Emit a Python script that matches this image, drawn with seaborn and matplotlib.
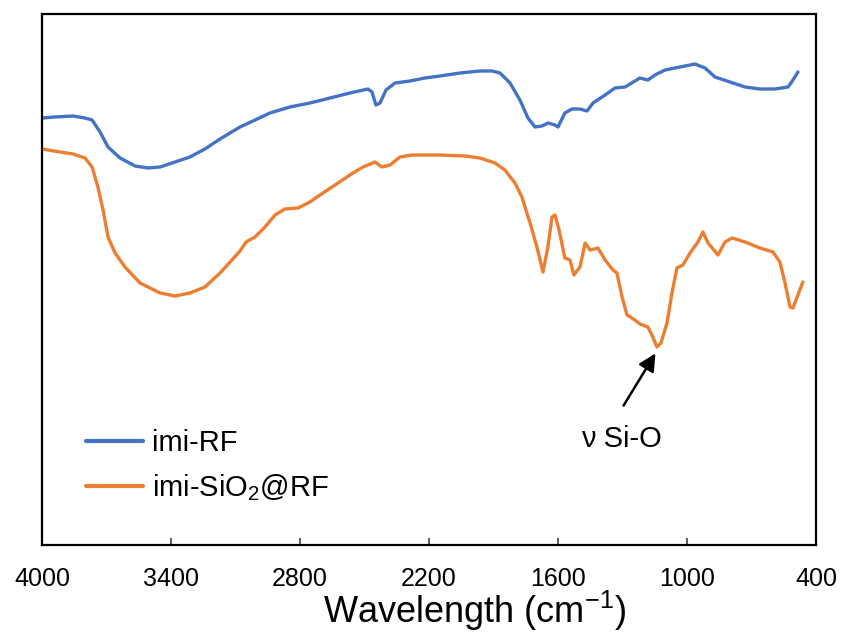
import numpy as np
import pandas as pd
import matplotlib
matplotlib.use("Agg")
import matplotlib.pyplot as plt
import seaborn as sns

# ---- data (y in arbitrary transmittance units) ----
wn_rf = [4000, 3940, 3856, 3800, 3767, 3730, 3693, 3637, 3567, 3507, 3451, 3381,
         3312, 3242, 3172, 3079, 3009, 2940, 2847, 2754, 2660, 2568, 2484, 2465,
         2447, 2428, 2400, 2358, 2288, 2219, 2149, 2056, 1963, 1907, 1870, 1823,
         1777, 1740, 1707, 1674, 1647, 1614, 1600, 1568, 1535, 1498, 1465, 1437,
         1381, 1335, 1288, 1219, 1182, 1149, 1102, 1033, 963, 916, 870, 800, 730,
         661, 591, 530, 507, 484]
t_rf = [427, 428, 429, 427, 425, 413, 398, 387, 379, 377, 378, 383,
        388, 396, 406, 418, 425, 432, 438, 442, 447, 452, 456, 453,
        440, 442, 455, 462, 464, 467, 469, 472, 474, 474, 472, 462,
        445, 427, 418, 419, 422, 420, 418, 432, 436, 436, 434, 442,
        450, 457, 458, 467, 465, 470, 475, 478, 481, 477, 468, 463, 458,
        456, 456, 458, 465, 473]

wn_si = [4000, 3916, 3856, 3800, 3767, 3740, 3716, 3693, 3660, 3614, 3544, 3451,
         3381, 3312, 3242, 3172, 3079, 3051, 3009, 2963, 2916, 2870, 2809, 2754,
         2707, 2637, 2568, 2507, 2451, 2419, 2381, 2335, 2279, 2149, 2033, 1963,
         1893, 1847, 1800, 1768, 1730, 1698, 1670, 1647, 1628, 1614, 1595, 1568,
         1544, 1526, 1498, 1474, 1451, 1414, 1381, 1344, 1326, 1302, 1279, 1242,
         1219, 1182, 1163, 1140, 1121, 1093, 1070, 1047, 1019, 986, 949, 926, 902,
         856, 823, 791, 730, 661, 600, 568, 544, 521, 507, 488, 461]
t_si = [396, 393, 391, 387, 378, 358, 335, 308, 292, 278, 262, 252,
        249, 252, 258, 272, 294, 303, 308, 318, 330, 336, 337, 343,
        350, 360, 370, 378, 383, 378, 380, 388, 390, 390, 389, 387,
        382, 375, 362, 348, 322, 298, 273, 298, 328, 330, 315, 287,
        285, 270, 278, 302, 295, 297, 285, 275, 272, 248, 230, 225,
        221, 218, 210, 198, 202, 222, 252, 277, 280, 292, 303, 313, 302,
        290, 303, 307, 303, 297, 293, 283, 262, 238, 237, 248, 263]

labels = ["imi-RF", "imi-SiO$_2$@RF"]
colors = ["#4472C4", "#ED7D31"]
xticks = [4000, 3400, 2800, 2200, 1600, 1000, 400]

df = pd.concat([
    pd.DataFrame({"wn": wn_rf, "T": t_rf, "sample": labels[0]}),
    pd.DataFrame({"wn": wn_si, "T": t_si, "sample": labels[1]}),
])

sns.set_theme(style="white")
plt.rcParams["font.family"] = ["Liberation Sans", "DejaVu Sans"]
plt.rcParams["mathtext.fontset"] = "custom"
plt.rcParams["mathtext.rm"] = "Liberation Sans"
plt.rcParams["mathtext.it"] = "Liberation Sans:italic"
plt.rcParams["mathtext.default"] = "regular"
plt.rcParams["text.color"] = "black"
plt.rcParams["axes.labelcolor"] = "black"
plt.rcParams["xtick.color"] = "black"

fig = plt.figure(figsize=(8.41, 6.37), dpi=100)
ax = fig.add_axes([42 / 841, 1 - 545 / 637, (816 - 42) / 841, (545 - 14) / 637])

sns.lineplot(data=df, x="wn", y="T", hue="sample", palette=colors,
             hue_order=labels, estimator=None, sort=False, lw=2.4, ax=ax)

ax.set_xlim(4000, 400)
ax.set_ylim(0, 531)
ax.set_xticks(xticks)
ax.set_xticklabels([str(t) for t in xticks])
ax.set_yticks([])
ax.set_ylabel("")
ax.tick_params(axis="x", direction="in", length=5, width=1.2, color="#404040",
               labelsize=18, labelcolor="black", pad=16, bottom=True)
ax.set_xlabel("Wavelength (cm$^{-1}$)", fontsize=26, color="black")
ax.xaxis.set_label_coords((475 - 42) / 774, -(589 - 545) / 531)
for s in ax.spines.values():
    s.set_color("black")
    s.set_linewidth(1.6)

leg = ax.legend(loc="center left", bbox_to_anchor=((86 - 42) / 774, (545 - 466) / 531),
                frameon=False, fontsize=21, handlelength=1.95, handletextpad=0.3,
                labelspacing=0.5, borderpad=0, borderaxespad=0)
for h in leg.get_lines():
    h.set_linewidth(3)

ax.text(1307, 106, "ν Si-O", fontsize=21, ha="center", va="center", color="black")
ax.annotate("", xy=(1140, 194), xytext=(1302, 137),
            arrowprops=dict(arrowstyle="-|>", color="black", lw=1.8, mutation_scale=26))

fig.savefig("out.png", dpi=100)
